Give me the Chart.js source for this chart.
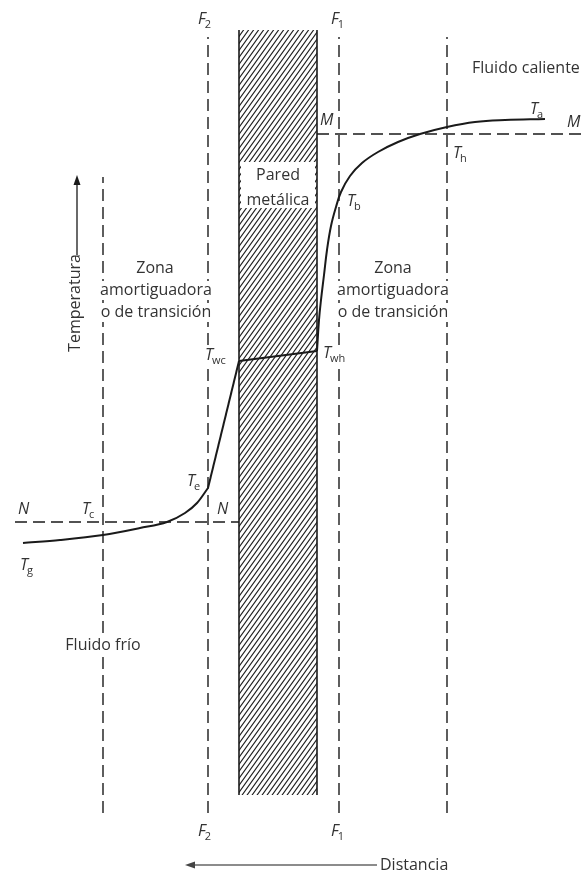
<!DOCTYPE html>
<html>
<head>
<meta charset="utf-8">
<script src="https://cdn.jsdelivr.net/npm/chart.js@4.4.1/dist/chart.umd.min.js"></script>
<style>
html, body { margin: 0; padding: 0; background: #fff; }
canvas { display: block; }
</style>
</head>
<body>
<canvas id="perfil" width="582" height="872"></canvas>
<script>
// distancia (x) y temperatura (y), en unidades del esquema
const coldCurveX = [23, 60, 103, 140, 167, 185, 197, 208];
const coldCurveT = [329, 332, 337, 344, 350, 359, 369, 384];
const coldFilmX = [208, 239];
const coldFilmT = [384, 511];
const wallLineX = [239, 317];
const wallLineT = [511, 521];
const hotCurveX = [317, 319, 321, 324, 327, 331, 336, 341, 350, 362, 378, 398, 420, 447, 475, 505, 545];
const hotCurveT = [521, 552, 572, 597, 622, 646, 665, 680, 696, 709, 720, 730, 738, 745, 750, 752, 753];

// planos verticales: zona izq., F2, F1, zona der.
const planeX = [103, 208, 339, 447];
const planeTop = [695, 835, 835, 835];
const planeBottom = 59;

// lineas M-M y N-N
const levelM = { t: 738, from: 317, to: 582 };
const levelN = { t: 350, from: 15, to: 239 };

// pared metalica
const wallX = [239, 317];
const wallT = [77, 842];
const wallLabelT = [664, 710];

const tempArrow = { x: 77, from: 617, to: 697 };
const distArrow = { t: 7, from: 377, to: 185 };

const texts = [
  { s: 'Fluido caliente', x: 472, t: 804, align: 'left' },
  { s: 'Pared', x: 278, t: 697 },
  { s: 'metálica', x: 278, t: 672 },
  { s: 'Zona', x: 155, t: 604, mask: true },
  { s: 'amortiguadora', x: 156, t: 582, mask: true },
  { s: 'o de transición', x: 156, t: 560, mask: true },
  { s: 'Zona', x: 393, t: 604, mask: true },
  { s: 'amortiguadora', x: 393, t: 582, mask: true },
  { s: 'o de transición', x: 393, t: 560, mask: true },
  { s: 'Fluido frío', x: 103, t: 227, mask: true },
  { s: 'Distancia', x: 380, t: 7, align: 'left' },
  { s: 'Temperatura', x: 75, t: 569, rotate: true }
];

const symbols = [
  { m: 'F', sub: '2', x: 198, t: 848 },
  { m: 'F', sub: '1', x: 331, t: 848 },
  { m: 'F', sub: '2', x: 198, t: 36 },
  { m: 'F', sub: '1', x: 331, t: 36 },
  { m: 'M', sub: '', x: 320, t: 747 },
  { m: 'M', sub: '', x: 567, t: 745 },
  { m: 'T', sub: 'a', x: 530, t: 758 },
  { m: 'T', sub: 'h', x: 453, t: 714 },
  { m: 'T', sub: 'b', x: 347, t: 666 },
  { m: 'T', sub: 'wh', x: 323, t: 514, mask: true },
  { m: 'T', sub: 'wc', x: 205, t: 512, mask: true },
  { m: 'T', sub: 'e', x: 187, t: 386 },
  { m: 'N', sub: '', x: 18, t: 358 },
  { m: 'N', sub: '', x: 217, t: 358 },
  { m: 'T', sub: 'c', x: 82, t: 358 },
  { m: 'T', sub: 'g', x: 20, t: 302 }
];

const ink = '#1a1a1a';
const textInk = '#333';
const font = '"Open Sans", "DejaVu Sans", sans-serif';

function pts(xs, ts) {
  return xs.map((x, i) => ({ x: x, y: ts[i] }));
}

const canvas = document.getElementById('perfil');
const ctx = canvas.getContext('2d');

function hatch() {
  const c = document.createElement('canvas');
  c.width = 5; c.height = 7;
  const g = c.getContext('2d');
  g.strokeStyle = '#1e1e1e';
  g.lineWidth = 1.1;
  g.beginPath();
  g.moveTo(0, 7); g.lineTo(5, 0);
  g.moveTo(-1, 1.4); g.lineTo(1, -1.4);
  g.moveTo(4, 8.4); g.lineTo(6, 5.6);
  g.stroke();
  return ctx.createPattern(c, 'repeat');
}

const datasets = [];

datasets.push({
  data: [{ x: wallX[0], y: wallT[1] }, { x: wallX[1], y: wallT[1] }],
  fill: { value: wallT[0] },
  backgroundColor: hatch(),
  borderWidth: 0,
  order: 20
});
datasets.push({
  data: [{ x: wallX[0] + 2, y: wallLabelT[1] }, { x: wallX[1] - 2, y: wallLabelT[1] }],
  fill: { value: wallLabelT[0] },
  backgroundColor: '#fff',
  borderWidth: 0,
  order: 19
});
wallX.forEach(x => {
  datasets.push({
    data: [{ x: x, y: wallT[0] }, { x: x, y: wallT[1] }],
    borderColor: ink, borderWidth: 1.6, order: 18
  });
});

planeX.forEach((x, i) => {
  datasets.push({
    data: [{ x: x, y: planeBottom }, { x: x, y: planeTop[i] }],
    borderColor: ink, borderWidth: 1.4, borderDash: [12, 6], order: 10
  });
});
[levelM, levelN].forEach(l => {
  datasets.push({
    data: [{ x: l.from, y: l.t }, { x: l.to, y: l.t }],
    borderColor: ink, borderWidth: 1.4, borderDash: [12, 6], order: 10
  });
});

datasets.push({
  data: pts(coldCurveX, coldCurveT),
  borderColor: ink, borderWidth: 2, cubicInterpolationMode: 'monotone', order: 1
});
datasets.push({
  data: pts(coldFilmX, coldFilmT),
  borderColor: ink, borderWidth: 2, order: 1
});
datasets.push({
  data: pts(wallLineX, wallLineT),
  borderColor: ink, borderWidth: 1.8, order: 1
});
datasets.push({
  data: pts(hotCurveX, hotCurveT),
  borderColor: ink, borderWidth: 2, tension: 0.4, order: 1
});

datasets.push({
  data: [{ x: tempArrow.x, y: tempArrow.from }, { x: tempArrow.x, y: tempArrow.to - 6 }],
  borderColor: ink, borderWidth: 1.3, order: 2
});
datasets.push({
  data: [{ x: distArrow.from, y: distArrow.t }, { x: distArrow.to + 6, y: distArrow.t }],
  borderColor: '#666', borderWidth: 1.3, order: 2
});

const labelsPlugin = {
  id: 'labels',
  afterDatasetsDraw(chart) {
    const c = chart.ctx;
    const sx = chart.scales.x, sy = chart.scales.y;
    c.save();

    // puntas de flecha
    c.fillStyle = ink;
    let ax = sx.getPixelForValue(tempArrow.x), ay = sy.getPixelForValue(tempArrow.to);
    c.beginPath();
    c.moveTo(ax, ay); c.lineTo(ax - 3.5, ay + 10); c.lineTo(ax + 3.5, ay + 10);
    c.closePath(); c.fill();
    c.fillStyle = '#444';
    ax = sx.getPixelForValue(distArrow.to); ay = sy.getPixelForValue(distArrow.t);
    c.beginPath();
    c.moveTo(ax, ay); c.lineTo(ax + 10, ay - 3.5); c.lineTo(ax + 10, ay + 3.5);
    c.closePath(); c.fill();

    c.textBaseline = 'middle';
    c.font = '16px ' + font;
    texts.forEach(tx => {
      const px = sx.getPixelForValue(tx.x), py = sy.getPixelForValue(tx.t);
      const w = c.measureText(tx.s).width;
      c.save();
      c.translate(px, py);
      if (tx.rotate) c.rotate(-Math.PI / 2);
      const left = tx.align === 'left' ? 0 : -w / 2;
      if (tx.mask) {
        c.fillStyle = '#fff';
        c.fillRect(left - 2, -9, w + 4, 19);
      }
      c.fillStyle = textInk;
      c.textAlign = 'left';
      c.fillText(tx.s, left, 0);
      c.restore();
    });

    c.textBaseline = 'alphabetic';
    symbols.forEach(sym => {
      const px = sx.getPixelForValue(sym.x), py = sy.getPixelForValue(sym.t);
      c.font = 'italic 16px ' + font;
      const w = c.measureText(sym.m).width;
      c.font = '11px ' + font;
      const ws = sym.sub ? c.measureText(sym.sub).width : 0;
      if (sym.mask) {
        c.fillStyle = '#fff';
        c.fillRect(px - 1, py - 13, w + ws + 2, 19);
      }
      c.fillStyle = textInk;
      c.font = 'italic 16px ' + font;
      c.fillText(sym.m, px, py);
      if (sym.sub) {
        c.font = '11px ' + font;
        c.fillText(sym.sub, px + w - 1, py + 4);
      }
    });
    c.restore();
  }
};

new Chart(ctx, {
  type: 'scatter',
  data: { datasets: datasets.map(d => Object.assign({ showLine: true, pointRadius: 0, fill: false }, d)) },
  options: {
    responsive: false,
    animation: false,
    layout: { padding: 0 },
    plugins: { legend: { display: false }, tooltip: { enabled: false } },
    scales: {
      x: { type: 'linear', min: 0, max: 582, display: false },
      y: { type: 'linear', min: 0, max: 872, display: false }
    }
  },
  plugins: [labelsPlugin]
});
</script>
</body>
</html>
